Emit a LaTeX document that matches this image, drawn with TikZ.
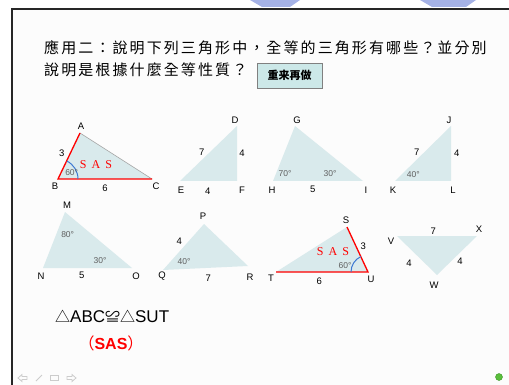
\documentclass[tikz,border=0pt]{standalone}
\usepackage{fontspec}
\setmainfont{Liberation Sans}
\newfontfamily\cjkfont{Noto Sans CJK TC}
\newfontfamily\serffont{Liberation Serif}
\usepackage{xcolor}
\usetikzlibrary{positioning}

\definecolor{trifill}{RGB}{217,234,236}
\definecolor{arcblue}{RGB}{60,120,210}
\definecolor{btnfill}{RGB}{204,232,232}
\definecolor{deggray}{RGB}{95,95,95}
\definecolor{logoblue}{RGB}{165,178,230}

\begin{document}
\begin{tikzpicture}[x=1pt, y=-1pt,
  tri/.style={fill=trifill},
  lbl/.style={inner sep=0pt, font=\fontsize{9.5}{10}\selectfont},
  deg/.style={inner sep=0pt, text=deggray, font=\fontsize{8.5}{9}\selectfont},
  sas/.style={inner sep=0pt, text=red, font=\serffont\fontsize{12}{12}\selectfont},
  redside/.style={red, line width=1.3pt},
  arcmark/.style={arcblue, line width=1pt},
  btn/.style={draw=gray, fill=btnfill, minimum width=65pt, minimum height=25pt, inner sep=0pt, font=\cjkfont\bfseries\fontsize{11}{11}\selectfont},
  nav/.style={black!20, line width=0.8pt}
]
\useasboundingbox (0,0) rectangle (509,385);

% slide frame and logo
\fill[logoblue] (250,0) -- (300,0) -- (290,7) -- (262,7) -- cycle;
\fill[logoblue] (420,0) -- (476,0) -- (466,7) -- (432,7) -- cycle;
\fill[black!1] (12,9) rectangle (509,385);
\draw[line width=1.5pt, black!85] (12,385) -- (12,9) -- (509,9);

% title
\node[inner sep=0pt, anchor=west, align=left,
  font=\cjkfont\addfontfeatures{LetterSpace=14}\fontsize{15}{22}\selectfont] (title) at (44,59)
  {應用二：說明下列三角形中，全等的三角形有哪些？並分別\\說明是根據什麼全等性質？};
\node[btn] (redo) at (289.5,75.5) {重来再做};

% vertices
\foreach \v/\x/\y in {A/80/133, B/58/179, C/152/179, D/237/126, E/180/181, F/237/181,
  G/295/126, H/273/181, I/363/181, J/451/126, K/395/181, L/451/181,
  M/65/212, N/43/268, O/132/268, P/204/224, Q/163/270, R/248/266,
  S/347/227, T/276/272, U/368/272, V/397/236, X/477/236, W/437/275}
  \coordinate (\v) at (\x,\y);

% triangles
\fill[tri] (A) -- (B) -- (C) -- cycle;
\fill[tri] (D) -- (E) -- (F) -- cycle;
\fill[tri] (G) -- (H) -- (I) -- cycle;
\fill[tri] (J) -- (K) -- (L) -- cycle;
\fill[tri] (M) -- (N) -- (O) -- cycle;
\fill[tri] (P) -- (Q) -- (R) -- cycle;
\fill[tri] (S) -- (T) -- (U) -- cycle;
\fill[tri] (V) -- (W) -- (X) -- cycle;
\draw[black!35, line width=0.6pt] (A) -- (C);

% marked sides and angles
\draw[redside] (A) -- (B) -- (C);
\draw[redside] (T) -- (U) -- (S);
\draw[arcmark] (B) ++(20,0) arc[start angle=0, end angle=64, radius=20pt];
\draw[arcmark] (U) ++(-17,0) arc[start angle=180, end angle=115, radius=17pt];

% vertex names
\foreach \v/\x/\y in {A/81/126.5, B/55/186, C/156/186, D/235/120, E/181/190, F/242/190,
  G/297/120, H/272/190, I/366/190, J/449/120, K/393/190, L/453/190,
  M/67/205.5, N/41/276, O/136/276, P/203/216, Q/162/276, R/250/277,
  S/346/220, T/271/278.5, U/371/279.5, V/391/241, X/479/229.5, W/434/285}
  \node[lbl] (lab\v) at (\x,\y) {\v};

% side lengths
\foreach \s/\x/\y/\t in {AB/61.7/153/3, BC/105/188/6, DE/201.7/152.7/7, DF/242/153.3/4,
  EF/207.7/191.7/4, HI/312.7/189.3/5, JK/416.7/152.7/7, JL/456.7/153.3/4,
  NO/81.7/275/5, PQ/179.3/241.7/4, QR/208.3/278.3/7, SU/363.3/246.7/3,
  TU/319.3/281/6, VX/433.3/231/7, VW/409/263.3/4, WX/460/261/4}
  \node[lbl] (len\s) at (\x,\y) {\t};

% angle sizes
\foreach \a/\x/\y/\t in {B/71.7/173/60, H/285/173.3/70, I/330/173.3/30, K/413.3/175/40,
  M/67.7/234.3/80, O/100/261/30, Q/184/261.7/40, U/345/266/60}
  \node[deg] (ang\a) at (\x,\y) {\t°};

\node[sas] (sas1) at (96,165) {S\hspace{5pt}A\hspace{5pt}S};
\node[sas] (sas2) at (333,251.7) {S\hspace{5pt}A\hspace{5pt}S};

% answer
\node[inner sep=0pt, anchor=west, font=\fontsize{17}{17}\selectfont] (answer) at (55,316)
  {{\cjkfont\fontsize{15}{15}\selectfont △}ABC{\cjkfont\fontsize{15}{15}\selectfont ≌△}SUT};
\node[inner sep=0pt, text=red, font=\fontsize{16}{16}\selectfont] (reason) at (111,343)
  {{\cjkfont （}\textbf{SAS}{\cjkfont ）}};

% navigation
\draw[nav] (18,378) -- (22,374.5) -- (22,376.5) -- (27,376.5) -- (27,379.5) -- (22,379.5) -- (22,381.5) -- cycle;
\draw[nav] (36,381) -- (42,375);
\draw[nav] (50,375.5) rectangle (58,380.5);
\draw[nav] (76,378) -- (72,374.5) -- (72,376.5) -- (67,376.5) -- (67,379.5) -- (72,379.5) -- (72,381.5) -- cycle;
\node[circle, fill={rgb,255:red,90;green,190;blue,60}, draw={rgb,255:red,60;green,150;blue,40},
  minimum size=7pt, inner sep=0pt] (dot) at (499,377) {};
\end{tikzpicture}
\end{document}
